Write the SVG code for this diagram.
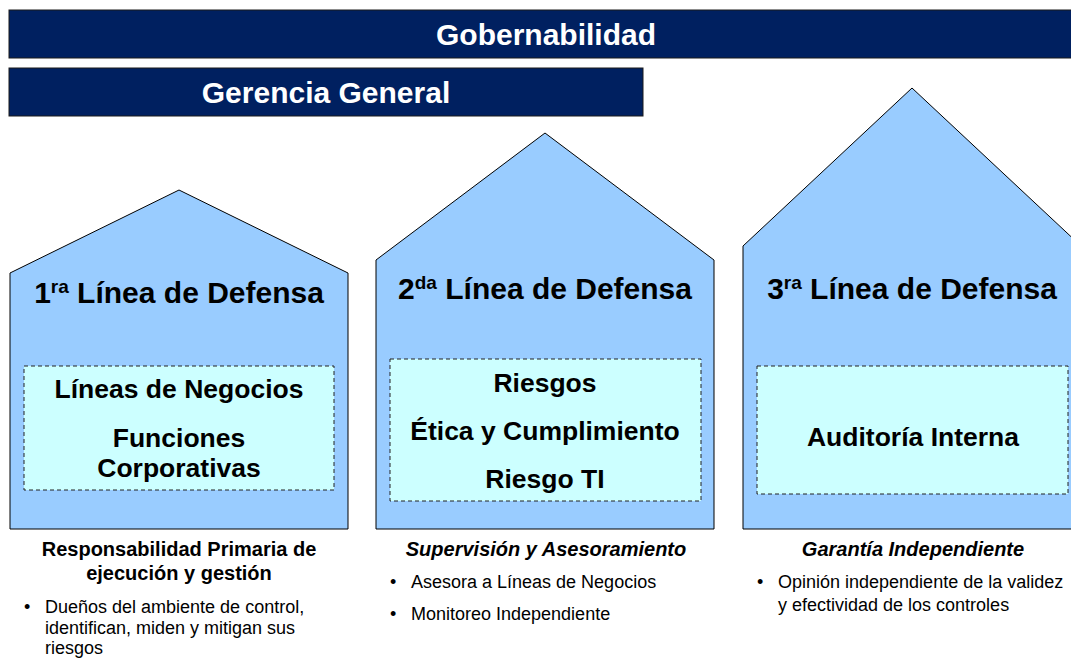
<svg xmlns="http://www.w3.org/2000/svg" width="1071" height="658" viewBox="0 0 1071 658">
<style>
.bar{fill:#002060;stroke:#1a1a1a;stroke-width:1}
.bartxt{font-family:"Liberation Sans",Arial,sans-serif;font-weight:bold;font-size:30px;fill:#ffffff;text-anchor:middle}
.house{fill:#99CCFF;stroke:#000000;stroke-width:1}
.box{fill:#CCFFFF;stroke:#222222;stroke-width:1;stroke-dasharray:4 3}
.title{font-family:"Liberation Sans",Arial,sans-serif;font-weight:bold;font-size:30px;fill:#000;text-anchor:middle}
.sup{font-size:19px}
.btxt{font-family:"Liberation Sans",Arial,sans-serif;font-weight:bold;font-size:26.5px;fill:#000;text-anchor:middle}
.head{font-family:"Liberation Sans",Arial,sans-serif;font-weight:bold;font-size:20px;fill:#000;text-anchor:middle}
.ital{font-style:italic}
.bul{font-family:"Liberation Sans",Arial,sans-serif;font-size:18px;fill:#000}
</style>
<rect width="1071" height="658" fill="#ffffff"/>
<g id="gobernabilidad">
<rect class="bar" x="9" y="10" width="1075" height="48"/>
<text class="bartxt" x="546" y="45">Gobernabilidad</text>
</g>
<g id="gerencia">
<rect class="bar" x="9" y="68" width="634" height="48"/>
<text class="bartxt" x="326" y="103">Gerencia General</text>
</g>
<g id="linea1">
<polygon class="house" points="10,273 179,190 348,273 348,529 10,529"/>
<text class="title" x="179" y="303">1<tspan class="sup" dy="-10">ra</tspan><tspan dy="10"> Línea de Defensa</tspan></text>
<rect class="box" x="24" y="366" width="310" height="124"/>
<text class="btxt" x="179" y="398">Líneas de Negocios</text>
<text class="btxt" x="179" y="447">Funciones</text>
<text class="btxt" x="179" y="477">Corporativas</text>
<text class="head" x="179" y="556">Responsabilidad Primaria de</text>
<text class="head" x="179" y="580">ejecución y gestión</text>
<text class="bul" x="24" y="613">•</text>
<text class="bul" x="45" y="613">Dueños del ambiente de control,</text>
<text class="bul" x="45" y="634">identifican, miden y mitigan sus</text>
<text class="bul" x="45" y="654">riesgos</text>
</g>
<g id="linea2">
<polygon class="house" points="376,260 545,133 714,260 714,529 376,529"/>
<text class="title" x="545" y="299">2<tspan class="sup" dy="-10">da</tspan><tspan dy="10"> Línea de Defensa</tspan></text>
<rect class="box" x="390" y="359" width="311" height="142"/>
<text class="btxt" x="545" y="392">Riesgos</text>
<text class="btxt" x="545" y="440">Ética y Cumplimiento</text>
<text class="btxt" x="545" y="488">Riesgo TI</text>
<text class="head ital" x="546" y="556">Supervisión y Asesoramiento</text>
<text class="bul" x="390" y="588">•</text>
<text class="bul" x="411" y="588">Asesora a Líneas de Negocios</text>
<text class="bul" x="390" y="620">•</text>
<text class="bul" x="411" y="620">Monitoreo Independiente</text>
</g>
<g id="linea3">
<polygon class="house" points="743,246 912,88 1081,246 1081,529 743,529"/>
<text class="title" x="912" y="299">3<tspan class="sup" dy="-10">ra</tspan><tspan dy="10"> Línea de Defensa</tspan></text>
<rect class="box" x="757" y="366" width="311" height="128"/>
<text class="btxt" x="913" y="446">Auditoría Interna</text>
<text class="head ital" x="913" y="556">Garantía Independiente</text>
<text class="bul" x="757" y="588">•</text>
<text class="bul" x="778" y="588">Opinión independiente de la validez</text>
<text class="bul" x="778" y="611">y efectividad de los controles</text>
</g>
<g id="connectors"></g>
</svg>
